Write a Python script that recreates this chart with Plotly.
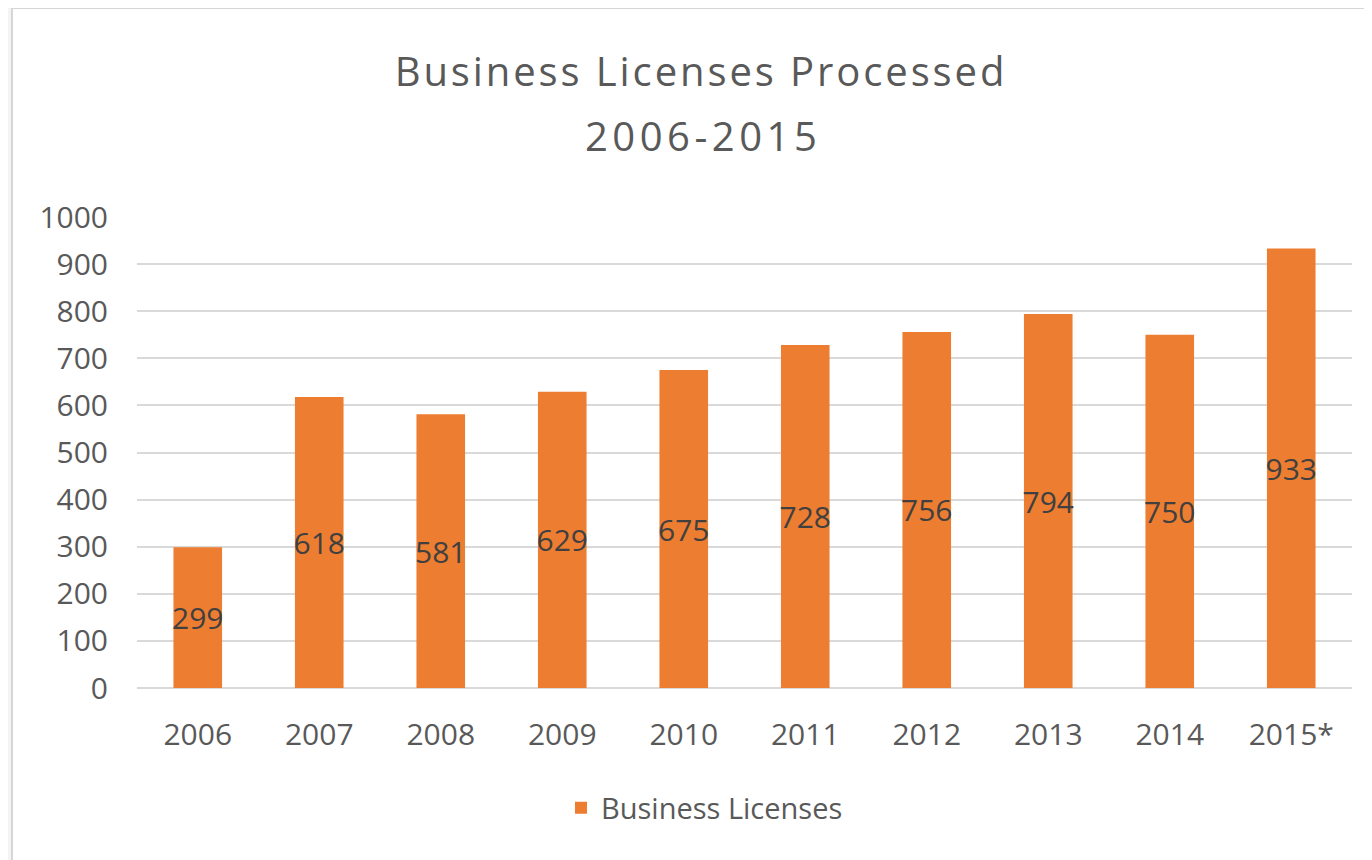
import plotly.graph_objects as go

years = ["2006", "2007", "2008", "2009", "2010", "2011", "2012", "2013", "2014", "2015*"]
licenses = [299, 618, 581, 629, 675, 728, 756, 794, 750, 933]
series_name = "Business Licenses"
title_line1 = "Business Licenses Processed"
title_line2 = "2006-2015"
y_ticks = list(range(0, 1001, 100))

# the page body has an 8px margin; positions below are given in page pixels
OFF = 8
W, H = 1372 - OFF, 860 - OFF
PL, PR, PT, PB = 137, 1352, 217, 688   # plot area in page pixels
L, R, T, B = PL - OFF, W - (PR - OFF), PT - OFF, H - (PB - OFF)
pw, ph = W - L - R, H - T - B

def px_x(p):
    return (p - PL) / pw

def px_y(p):
    return (PB - p) / ph

FONT = "Open Sans"
GRAY = "#595959"

fig = go.Figure()
fig.add_trace(go.Bar(
    x=years, y=licenses, name=series_name,
    marker=dict(color="#ED7D31", line=dict(width=0)),
    text=[str(v) for v in licenses],
    textposition="inside", insidetextanchor="middle",
    textangle=0, constraintext="none",
    textfont=dict(family=FONT, size=30, color="#404040"),
    showlegend=True,
))

fig.update_layout(
    width=W, height=H,
    margin=dict(l=L, r=R, t=T, b=B, autoexpand=False),
    paper_bgcolor="#f4f4f4",
    plot_bgcolor="rgba(0,0,0,0)",
    bargap=0.6,
    font=dict(family=FONT, color=GRAY),
    title=dict(
        text="<span style='letter-spacing:2.9px'>" + title_line1 + "</span>",
        font=dict(family=FONT, size=40, color=GRAY),
        x=(701 - OFF) / W, xanchor="center", xref="container",
        y=1 - (72 - OFF) / H, yanchor="middle", yref="container",
    ),
    annotations=[dict(
        text="<span style='letter-spacing:4.5px'>" + title_line2 + "</span>",
        font=dict(family=FONT, size=40, color=GRAY),
        xref="paper", yref="paper", x=px_x(703), y=px_y(135),
        xanchor="center", yanchor="middle", showarrow=False,
    )],
    xaxis=dict(
        showgrid=False, showline=False, zeroline=False, ticks="",
        tickfont=dict(family=FONT, size=30, color=GRAY),
        ticklabelstandoff=26,
    ),
    yaxis=dict(
        range=[0, 1000], tickvals=y_ticks,
        showgrid=True, gridcolor="#d9d9d9", gridwidth=1.5,
        zeroline=True, zerolinecolor="#d9d9d9", zerolinewidth=1.5,
        showline=False, ticks="",
        tickfont=dict(family=FONT, size=30, color=GRAY),
        ticklabelstandoff=28,
    ),
    legend=dict(
        orientation="h", xref="paper", yref="container",
        x=px_x(561), xanchor="left", y=1 - (808 - OFF) / H, yanchor="middle",
        font=dict(family=FONT, size=29, color=GRAY),
        bgcolor="rgba(0,0,0,0)",
    ),
    shapes=[dict(
        type="rect", xref="paper", yref="paper", layer="below",
        x0=px_x(12), x1=px_x(1372 + 20), y0=px_y(860 + 20), y1=px_y(8),
        fillcolor="white", line=dict(color="#d6d6d6", width=2),
    )],
)

fig.write_html("out.html")
